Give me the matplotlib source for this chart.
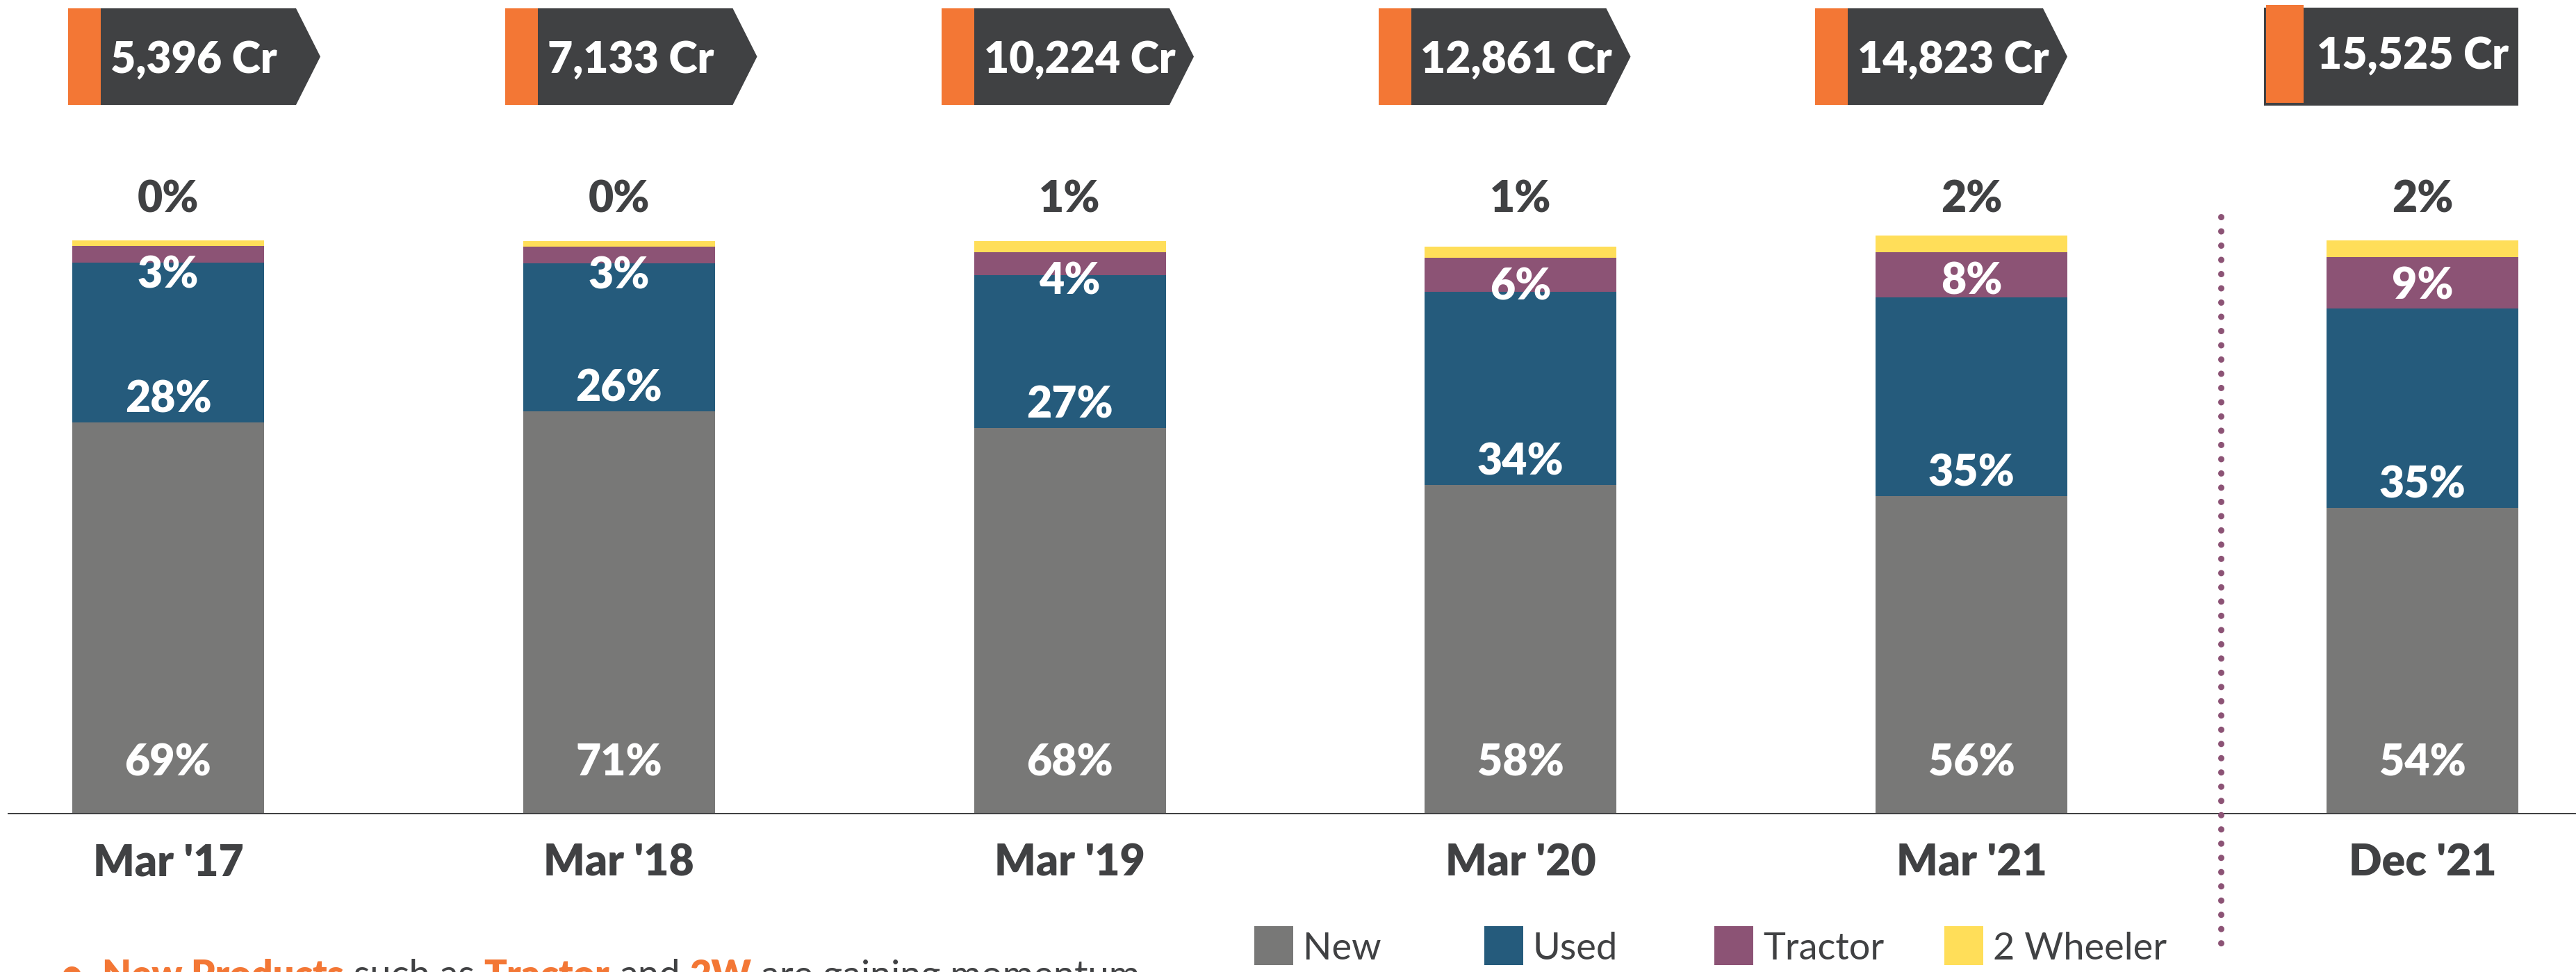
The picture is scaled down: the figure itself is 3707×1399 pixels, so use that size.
import matplotlib
matplotlib.use("Agg")
import matplotlib.pyplot as plt
from matplotlib.patches import Rectangle, Polygon
from matplotlib.lines import Line2D

# ---------------- data ----------------
categories = ["Mar '17", "Mar '18", "Mar '19", "Mar '20", "Mar '21", "Dec '21"]
aum_labels = ["5,396 Cr", "7,133 Cr", "10,224 Cr", "12,861 Cr", "14,823 Cr", "15,525 Cr"]
series_names = ["New", "Used", "Tractor", "2 Wheeler"]
new_share = [68.4, 70.3, 67.4, 57.5, 55.5, 53.5]
used_share = [27.8, 25.8, 26.7, 33.7, 34.7, 34.7]
tractor_share = [2.9, 2.9, 4.0, 5.9, 7.9, 9.0]
two_wheeler_share = [1.0, 1.0, 1.9, 1.9, 2.9, 2.9]
new_labels = ["69%", "71%", "68%", "58%", "56%", "54%"]
used_labels = ["28%", "26%", "27%", "34%", "35%", "35%"]
tractor_labels = ["3%", "3%", "4%", "6%", "8%", "9%"]
two_wheeler_labels = ["0%", "0%", "1%", "1%", "2%", "2%"]

# ---------------- style ----------------
GRAY = "#787877"
BLUE = "#255B7C"
PURPLE = "#8C5375"
YELLOW = "#FFDE59"
DARK = "#404143"
ORANGE = "#F37735"
series_colors = [GRAY, BLUE, PURPLE, YELLOW]
FONT = "Lato"
plt.rcParams["font.family"] = [FONT, "DejaVu Sans"]
BOLD = "heavy"

W, H = 3707, 1399
DPI = 100
fig = plt.figure(figsize=(W / DPI, H / DPI), dpi=DPI)
fig.patch.set_facecolor("white")


def fx(px):
    return px / W


def fy(py):
    return 1 - py / H


# axes geometry (pixel based layout)
BASE_PX = 1172          # baseline
PX_PER_UNIT = 8.25      # pixels per percentage point
STEP_PX = 648.8         # distance between bar centres
FIRST_PX = 242          # centre of first bar
BAR_W_PX = 276

ax = fig.add_axes([0, fy(BASE_PX), 1, BASE_PX / H])
ax.set_xlim(-FIRST_PX / STEP_PX, (W - FIRST_PX) / STEP_PX)
ax.set_ylim(0, BASE_PX / PX_PER_UNIT)
ax.axis("off")

x = list(range(len(categories)))
bw = BAR_W_PX / STEP_PX
stack = [new_share, used_share, tractor_share, two_wheeler_share]
bottom = [0.0] * len(x)
for vals, col, name in zip(stack, series_colors, series_names):
    ax.bar(x, vals, width=bw, bottom=bottom, color=col, label=name, zorder=2)
    bottom = [b + v for b, v in zip(bottom, vals)]

ax.axhline(0, xmin=13 / W, xmax=1, color=DARK, lw=2.9, zorder=3)

LAB = 45
u = lambda px: px / PX_PER_UNIT
for i in x:
    ax.text(i, u(79), new_labels[i], ha="center", va="center_baseline",
            color="white", fontsize=LAB, fontweight=BOLD)
    ax.text(i, new_share[i] + u(38), used_labels[i], ha="center",
            va="center_baseline", color="white", fontsize=LAB, fontweight=BOLD)
    top_t = new_share[i] + used_share[i] + tractor_share[i]
    ax.text(i, top_t - u(37), tractor_labels[i], ha="center",
            va="center_baseline", color="white", fontsize=LAB, fontweight=BOLD)
    ax.text(i, u(BASE_PX - 282), two_wheeler_labels[i], ha="center",
            va="center_baseline", color=DARK, fontsize=LAB, fontweight=BOLD)
    ax.text(i, -u(1237 - BASE_PX), categories[i], ha="center",
            va="center_baseline", color=DARK, fontsize=LAB, fontweight=BOLD)

# ---------------- callouts ----------------
T = fig.transFigure


def poly(pts, color, z=5):
    fig.add_artist(Polygon([(fx(a), fy(b)) for a, b in pts], closed=True,
                           transform=T, facecolor=color, edgecolor="none", zorder=z))


for i in range(5):
    L = 98 + 628.5 * i
    top, bot, mid = 12, 151, 81.5
    poly([(L + 47, top), (L + 328, top), (L + 363, mid), (L + 328, bot), (L + 47, bot)], DARK)
    poly([(L, top), (L + 47, top), (L + 47, bot), (L, bot)], ORANGE, 6)
    fig.text(fx(L + 47 + 14), fy(mid), aum_labels[i], ha="left", va="center_baseline",
             color="white", fontsize=LAB, fontweight=BOLD, zorder=7)

poly([(3258, 11), (3624, 11), (3624, 152), (3258, 152)], DARK)
poly([(3261, 7), (3315, 7), (3315, 148), (3261, 148)], ORANGE, 6)
fig.text(fx(3334), fy(76), aum_labels[5], ha="left", va="center_baseline",
         color="white", fontsize=LAB, fontweight=BOLD, zorder=7)

# ---------------- divider ----------------
fig.add_artist(Line2D([fx(3196), fx(3196)], [fy(312), fy(1372)], transform=T,
                      color=PURPLE, lw=6.5, linestyle=(0, (0.01, 2.26)),
                      dash_capstyle="round", zorder=4))

# ---------------- legend ----------------
for k, (name, col) in enumerate(zip(series_names, series_colors)):
    L = 1805 + 331 * k
    fig.add_artist(Rectangle((fx(L), fy(1389)), 56 / W, 56 / H, transform=T,
                             facecolor=col, edgecolor="none"))
    fig.text(fx(L + 70), fy(1361), name, ha="left", va="center_baseline",
             color=DARK, fontsize=39, fontweight="normal")

# ---------------- bottom note (clipped by figure edge, as in the source) ----------------
renderer = fig.canvas.get_renderer()
NOTE = 39
pieces = [("New Products", ORANGE, BOLD), (" such as ", DARK, "normal"),
          ("Tractor", ORANGE, BOLD), (" and ", DARK, "normal"),
          ("2W", ORANGE, BOLD), (" are gaining momentum", DARK, "normal")]


def width_px(s, weight):
    t = fig.text(0, 0, s, fontsize=NOTE, fontweight=weight)
    w = t.get_window_extent(renderer).width
    t.remove()
    return w


fig.text(fx(103), fy(1380), "\u2022", ha="center", va="top", color=ORANGE,
         fontsize=NOTE, fontweight=BOLD)
cur = 147
for s, col, wt in pieces:
    lead = len(s) - len(s.lstrip(" "))
    trail = len(s) - len(s.rstrip(" "))
    sp = width_px("a a", wt) - width_px("aa", wt)
    cur += lead * sp
    core = s.strip(" ")
    t = fig.text(fx(cur), fy(1380), core, ha="left", va="top", color=col,
                 fontsize=NOTE, fontweight=wt)
    cur += t.get_window_extent(renderer).width + trail * sp

fig.savefig("out.png", dpi=DPI, facecolor="white")
